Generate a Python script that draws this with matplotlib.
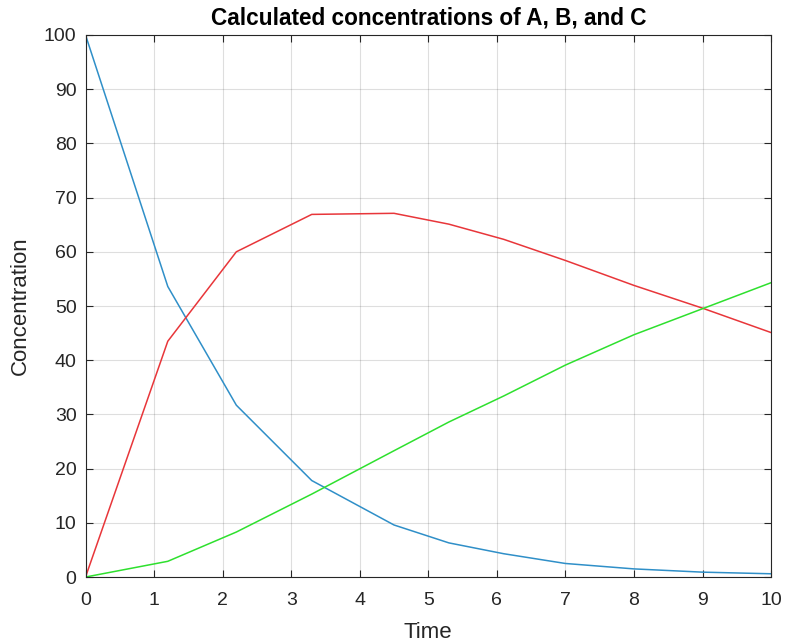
"""Concentrations of A, B and C over time."""

import matplotlib
matplotlib.use("Agg")
import matplotlib.pyplot as plt

plt.rcParams["font.family"] = ["Liberation Sans", "DejaVu Sans"]

# values
time = [0, 1.2, 2.2, 3.3, 4.5, 5.3, 6.1, 7.0, 8.0, 9.0, 10.0]
conc_a = [100, 53.6, 31.7, 17.8, 9.6, 6.3, 4.3, 2.5, 1.5, 0.9, 0.6]
conc_b = [0, 43.5, 60.0, 66.9, 67.1, 65.1, 62.3, 58.4, 53.8, 49.6, 45.1]
conc_c = [0, 2.9, 8.3, 15.3, 23.3, 28.6, 33.4, 39.1, 44.7, 49.5, 54.3]

x_ticks = list(range(0, 11))
y_ticks = list(range(0, 101, 10))

fig = plt.figure(figsize=(7.86, 6.43), dpi=100)
ax = fig.add_axes([0.1088, 0.1026, 0.8722, 0.843])

ax.plot(time, conc_a, color="#2F8FC8", linewidth=1.1)
ax.plot(time, conc_b, color="#E8363A", linewidth=1.1)
ax.plot(time, conc_c, color="#2EE02E", linewidth=1.1)

ax.set_xlim(0, 10)
ax.set_ylim(0, 100)
ax.set_xticks(x_ticks)
ax.set_yticks(y_ticks)
ax.grid(True, color="#262626", alpha=0.15, linewidth=0.8)
ax.tick_params(direction="in", length=5, width=0.8, colors="#262626",
               labelsize=14, top=True, right=True)
ax.tick_params(axis="x", pad=11)
ax.tick_params(axis="y", pad=6.5)
for s in ax.spines.values():
    s.set_color("#262626")
    s.set_linewidth(0.8)

ax.set_title("Calculated concentrations of A, B, and C", fontsize=16.3,
             fontweight="bold", pad=7.5)
ax.set_xlabel("Time", fontsize=16, color="#262626", labelpad=9)
ax.set_ylabel("Concentration", fontsize=16, color="#262626", labelpad=9.5)

plt.savefig("out.png", dpi=100)
plt.close()
